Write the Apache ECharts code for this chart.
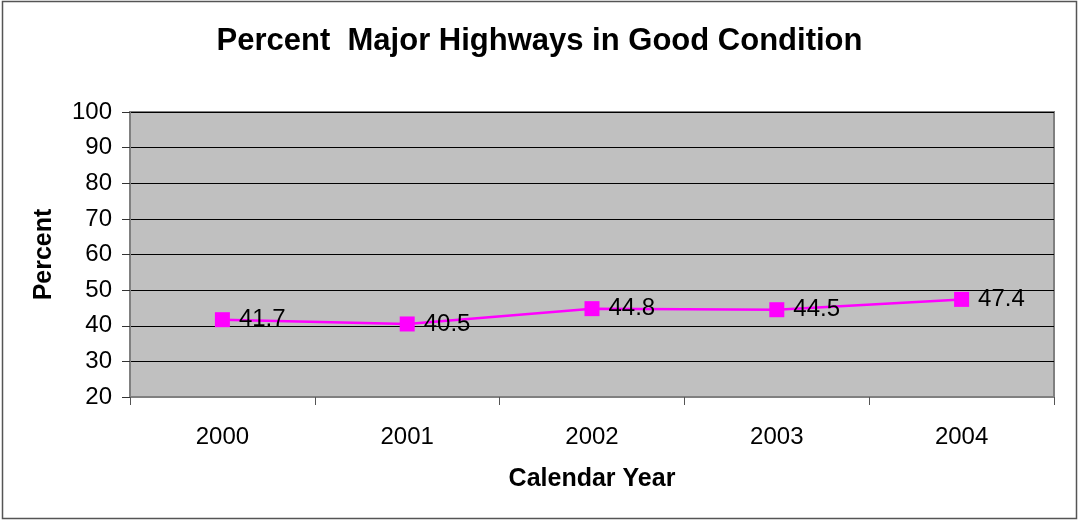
<!DOCTYPE html>
<html><head><meta charset="utf-8">
<script src="https://cdn.jsdelivr.net/npm/echarts@6/dist/echarts.min.js"></script>
<style>html,body{margin:0;padding:0;background:#fff}#c{width:1079px;height:521px}</style>
</head><body><div id="c"></div>
<script>
const categories = ['2000','2001','2002','2003','2004'];
const values = [41.7, 40.5, 44.8, 44.5, 47.4];
const chart = echarts.init(document.getElementById('c'));
const F = 'Arial, "Liberation Sans", sans-serif';
chart.setOption({
  animation:false,
  backgroundColor:'#fff',
  graphic:[{type:'rect',shape:{x:2.5,y:1.5,width:1074,height:517},style:{fill:'none',stroke:'#555',lineWidth:1.5},silent:true}],
  title:{text:'Percent  Major Highways in Good Condition',left:'center',top:21,textStyle:{fontFamily:F,fontSize:31,fontWeight:'bold',color:'#000'}},
  grid:{left:130,right:25,top:112,bottom:124,show:true,backgroundColor:'#c0c0c0',borderColor:'#808080',borderWidth:2},
  xAxis:{type:'category',data:categories,boundaryGap:true,
    name:'Calendar Year',nameLocation:'middle',nameGap:70,nameTextStyle:{fontFamily:F,fontSize:25,fontWeight:'bold',color:'#000'},
    axisLine:{lineStyle:{color:'#808080',width:2}},
    axisTick:{show:true,alignWithLabel:false,length:8,lineStyle:{color:'#555'}},
    axisLabel:{fontFamily:F,fontSize:24,color:'#000',margin:28}},
  yAxis:{type:'value',min:20,max:100,interval:10,
    name:'Percent',nameLocation:'middle',nameGap:73,nameTextStyle:{fontFamily:F,fontSize:25,fontWeight:'bold',color:'#000'},
    axisLine:{show:true,lineStyle:{color:'#808080',width:2}},
    axisTick:{show:true,length:8,lineStyle:{color:'#333'}},
    splitLine:{lineStyle:{color:'#000',width:1}},
    axisLabel:{fontFamily:F,fontSize:24,color:'#000',margin:18}},
  series:[{type:'line',data:values,symbol:'rect',symbolSize:15,
    lineStyle:{color:'#ff00ff',width:2.5},itemStyle:{color:'#ff00ff'},
    label:{show:true,position:'right',distance:9,fontFamily:F,fontSize:24,color:'#000'}}]
});
</script></body></html>
